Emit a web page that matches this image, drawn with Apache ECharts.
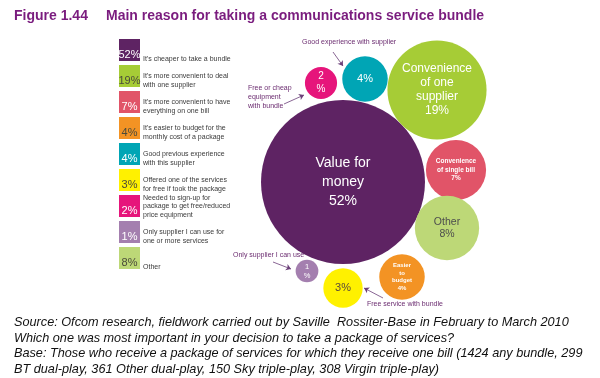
<!DOCTYPE html>
<html>
<head>
<meta charset="utf-8">
<script src="https://cdn.jsdelivr.net/npm/echarts@6/dist/echarts.min.js"></script>
<style>
html,body{margin:0;padding:0;background:#fff;}
#chart{width:600px;height:378px;}
</style>
</head>
<body>
<div id="chart"></div>
<script>
// ---- data ----
var categories = [
  "It's cheaper to take a bundle",
  "It's more convenient to deal\nwith one supplier",
  "It's more convenient to have\neverything on one bill",
  "It's easier to budget for the\nmonthly cost of a package",
  "Good previous experience\nwith this supplier",
  "Offered one of the services\nfor free if took the package",
  "Needed to sign-up for\npackage to get free/reduced\nprice equipment",
  "Only supplier I can use for\none or more services",
  "Other"
];
var values = [52, 19, 7, 4, 4, 3, 2, 1, 8];
var valueLabels = ["52%", "19%", "7%", "4%", "4%", "3%", "2%", "1%", "8%"];
var bubbleLabels = [
  "Value for\nmoney\n52%",
  "Convenience\nof one\nsupplier\n19%",
  "Convenience\nof single bill\n7%",
  "Easier\nto\nbudget\n4%",
  "4%",
  "3%",
  "2\n%",
  "1\n%",
  "Other\n8%"
];

// ---- layout / style (not data) ----
var colors = ['#5E2363', '#A6CC36', '#E15468', '#F39324', '#00A5B5', '#FFF100', '#E6157B', '#A47FAF', '#BDD877'];
var darkText = [false, true, false, true, false, true, false, false, true];
var bubbleX = [343, 437, 456, 402, 365, 343, 321, 307, 447];
var bubbleY = [182, 90, 170, 277, 79, 288, 83, 271, 228];
var bubbleFont = [
  {fontSize: 14, lineHeight: 19, color: '#fff'},
  {fontSize: 12, lineHeight: 14, color: '#fff'},
  {fontSize: 6.5, lineHeight: 8.5, color: '#fff', fontWeight: 'bold'},
  {fontSize: 6, lineHeight: 7.5, color: '#fff', fontWeight: 'bold'},
  {fontSize: 11, lineHeight: 13, color: '#fff'},
  {fontSize: 11, lineHeight: 13, color: '#5a4a3a'},
  {fontSize: 10, lineHeight: 13, color: '#fff'},
  {fontSize: 7.5, lineHeight: 9, color: '#fff'},
  {fontSize: 10.5, lineHeight: 12.5, color: '#4d4d4d'}
];
var radiusScale = 11.37; // px per sqrt(percent)

var FONT = '"Liberation Sans", Arial, sans-serif';

var bubbleData = values.map(function (v, i) {
  var f = bubbleFont[i];
  return {
    name: categories[i],
    value: [bubbleX[i], bubbleY[i], v],
    itemStyle: {color: colors[i], opacity: 1},
    label: {
      show: true,
      position: 'inside',
      formatter: bubbleLabels[i],
      color: f.color,
      fontSize: f.fontSize,
      lineHeight: f.lineHeight,
      fontWeight: f.fontWeight || 'normal',
      fontFamily: FONT,
      align: 'center',
      verticalAlign: 'middle'
    }
  };
});

var legendSquares = values.map(function (v, i) {
  return {
    value: [0, i],
    itemStyle: {color: colors[i], opacity: 1},
    label: {
      show: true,
      formatter: valueLabels[i],
      color: darkText[i] ? '#4a4a3a' : '#fff',
      position: ['50%', '100%'],
      align: 'center',
      verticalAlign: 'bottom',
      offset: [0, -1],
      fontSize: 11,
      fontFamily: FONT
    }
  };
});
var legendTexts = categories.map(function (c, i) {
  return {
    value: [0, i],
    label: {
      show: true,
      formatter: c,
      position: ['100%', '100%'],
      align: 'left',
      verticalAlign: 'bottom',
      offset: [3, 2],
      fontSize: 7,
      lineHeight: 8.3,
      color: '#3a3a3a',
      fontFamily: FONT
    }
  };
});

var arrowColor = '#6B3F78';
var annColor = '#6B2C70';

var chart = echarts.init(document.getElementById('chart'), null, {renderer: 'canvas'});
chart.setOption({
  animation: false,
  backgroundColor: '#fff',
  grid: [
    {left: 0, top: 0, width: 600, height: 378},
    {left: 119, top: 37, width: 21, height: 234}
  ],
  xAxis: [
    {gridIndex: 0, type: 'value', min: 0, max: 600, show: false},
    {gridIndex: 1, type: 'value', min: -1, max: 1, show: false}
  ],
  yAxis: [
    {gridIndex: 0, type: 'value', min: 0, max: 378, inverse: true, show: false},
    {gridIndex: 1, type: 'category', data: categories, inverse: true, show: false}
  ],
  title: [
    {text: 'Figure 1.44', left: 14, top: 9, padding: 0,
     textStyle: {color: '#7A1C7E', fontSize: 14, fontWeight: 'bold', fontFamily: FONT}},
    {text: 'Main reason for taking a communications service bundle', left: 106, top: 9, padding: 0,
     textStyle: {color: '#7A1C7E', fontSize: 14, fontWeight: 'bold', fontFamily: FONT}}
  ],
  graphic: [
    {type: 'text', left: 302, top: 39, style: {text: 'Good experience with supplier', fill: annColor, font: '7px ' + FONT}},
    {type: 'text', left: 248, top: 84, style: {text: 'Free or cheap\nequipment\nwith bundle', fill: annColor, font: '7px ' + FONT, lineHeight: 9}},
    {type: 'text', left: 233, top: 252, style: {text: 'Only supplier I can use', fill: annColor, font: '7px ' + FONT}},
    {type: 'text', left: 367, top: 301, style: {text: 'Free service with bundle', fill: annColor, font: '7px ' + FONT}},
    {type: 'text', left: 14, top: 315, style: {
      text: 'Source: Ofcom research, fieldwork carried out by Saville  Rossiter-Base in February to March 2010\nWhich one was most important in your decision to take a package of services?\nBase: Those who receive a package of services for which they receive one bill (1424 any bundle, 299\nBT dual-play, 361 Other dual-play, 150 Sky triple-play, 308 Virgin triple-play)',
      fill: '#111', font: 'italic 12.7px ' + FONT, lineHeight: 15.5}}
  ],
  series: [
    {
      type: 'scatter',
      xAxisIndex: 0, yAxisIndex: 0,
      symbol: 'circle',
      symbolSize: function (val) { return 2 * radiusScale * Math.sqrt(val[2]); },
      data: bubbleData,
      silent: true,
      markLine: {
        silent: true,
        symbol: ['none', 'arrow'],
        symbolSize: 5,
        label: {show: false},
        lineStyle: {color: arrowColor, width: 0.8, type: 'solid'},
        data: [
          [{coord: [333, 52]}, {coord: [343, 66]}],
          [{coord: [284, 104]}, {coord: [304, 95]}],
          [{coord: [273, 262]}, {coord: [291, 269]}],
          [{coord: [383, 298]}, {coord: [364, 288]}]
        ]
      }
    },
    {
      type: 'scatter',
      xAxisIndex: 1, yAxisIndex: 1,
      symbol: 'rect',
      symbolSize: [21, 22],
      data: legendSquares,
      silent: true
    },
    {
      type: 'scatter',
      xAxisIndex: 1, yAxisIndex: 1,
      symbol: 'rect',
      symbolSize: [21, 22],
      itemStyle: {color: 'rgba(0,0,0,0)', opacity: 1},
      data: legendTexts,
      silent: true
    }
  ]
});
</script>
</body>
</html>
